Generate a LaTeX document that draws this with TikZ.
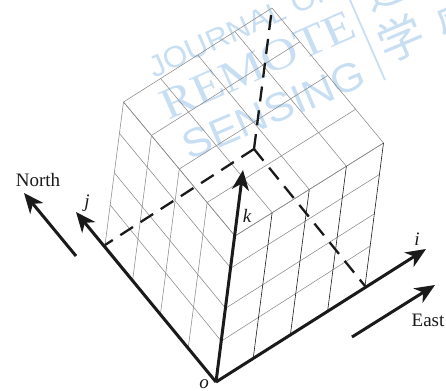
\documentclass[tikz,border=0pt]{standalone}
\usepackage{fontspec}
\setmainfont{Liberation Serif}
\newfontfamily\wmsans[FakeStretch=1.05]{Liberation Sans}
\newfontfamily\wmwide[FakeStretch=1.08]{Liberation Sans}
\newfontfamily\wmserif[FakeStretch=1.15]{Liberation Serif}
\newfontfamily\cjk{Noto Sans CJK SC}
\usetikzlibrary{arrows.meta,calc}
\definecolor{wm}{HTML}{C8DFF3}
\definecolor{gridgray}{HTML}{8A8A8A}
\definecolor{ink}{HTML}{1A1A1A}
\tikzset{
  wmtext/.style={text=wm,inner sep=0pt,anchor=center},
  gridline/.style={draw=gridgray,line width=0.55pt},
  darkgrid/.style={draw=ink,line width=0.6pt},
  axis/.style={draw=ink,line width=3pt,-{Stealth[length=20pt,width=17pt,inset=6pt]}},
  dashline/.style={draw=ink,line width=2.3pt,dash pattern=on 15pt off 9pt},
  lab/.style={text=ink,inner sep=0pt,font=\fontsize{19}{19}\selectfont},
}
\begin{document}
\begin{tikzpicture}[x=1pt,y=-1pt]
\useasboundingbox (0,0) rectangle (446,390);
\clip (0,0) rectangle (446,390);
\fill[white] (0,0) rectangle (446,390);
% watermark
\node[wmtext,rotate=24,font=\wmsans\fontsize{30}{30}\selectfont] (wm1) at (241,28) {JOURNAL OF};
\node[wmtext,rotate=24,font=\wmserif\fontsize{44}{44}\selectfont] (wm2) at (258,65) {REMOTE};
\node[wmtext,rotate=23,font=\wmwide\fontsize{40}{40}\selectfont] (wm3) at (274,110) {SENSING};
\coordinate (wma) at (350,0);
\coordinate (wmb) at (385,80);
\draw[wm,line width=1.8pt] (wma) -- (wmb);
\node[wmtext,rotate=23,font=\cjk\fontsize{46}{46}\selectfont] (wm4) at (401,38) {学};
\node[wmtext,rotate=23,font=\cjk\fontsize{46}{46}\selectfont] (wm5) at (385,-14) {遥};
\node[wmtext,rotate=23,font=\cjk\fontsize{46}{46}\selectfont] (wm6) at (460,20) {感};
% key points
\coordinate (o) at (216,382);
\coordinate (I) at (365,286);
\coordinate (J) at (105,245);
\coordinate (B) at (254,149);
\coordinate (Tf) at (235,236);
\coordinate (Ti) at (383.5,143);
\coordinate (Tj) at (123.5,102);
\coordinate (Tb) at (272,8);
% left face
\foreach \f in {0,0.28,0.505,0.78,1}{
  \draw[gridline] ($(o)!\f!(Tf)$) -- ($(J)!\f!(Tj)$);
}
\foreach \f in {0.25,0.5,0.75,1}{
  \draw[gridline] ($(o)!\f!(J)$) -- ($(Tf)!\f!(Tj)$);
}
% top face
\foreach \f in {0,0.25,0.5,0.75,1}{
  \draw[gridline] ($(Tf)!\f!(Ti)$) -- ($(Tj)!\f!(Tb)$);
  \draw[gridline] ($(Tf)!\f!(Tj)$) -- ($(Ti)!\f!(Tb)$);
}
% right face
\foreach \f in {0.28,0.505,0.78,1}{
  \draw[gridline] ($(o)!\f!(Tf)$) -- ($(I)!\f!(Ti)$);
}
\foreach \f in {0.25,0.5,0.75,1}{
  \draw[darkgrid] ($(o)!\f!(I)$) -- ($(Tf)!\f!(Ti)$);
}
% dashed hidden edges
\draw[dashline] (B) -- (J);
\draw[dashline] (B) -- (I);
\draw[dashline] (B) -- (Tb);
% axes
\coordinate (ie) at (426,249);
\coordinate (je) at (76,212);
\coordinate (ke) at (243,170);
\draw[axis] (o) -- (ie);
\draw[axis] (o) -- (je);
\draw[axis] (o) -- (ke);
% compass arrows
\coordinate (ns) at (76,256);
\coordinate (ne) at (24,193);
\coordinate (es) at (352,337);
\coordinate (ee) at (435,285);
\draw[axis] (ns) -- (ne);
\draw[axis] (es) -- (ee);
% labels
\node[lab] (north) at (38,180) {North};
\node[lab] (east) at (428,320) {East};
\node[lab] (lj) at (87,203) {\itshape j};
\node[lab] (lk) at (247,216) {\itshape k};
\node[lab] (li) at (417,239) {\itshape i};
\node[lab] (lo) at (204,384) {\itshape o};
\end{tikzpicture}
\end{document}
